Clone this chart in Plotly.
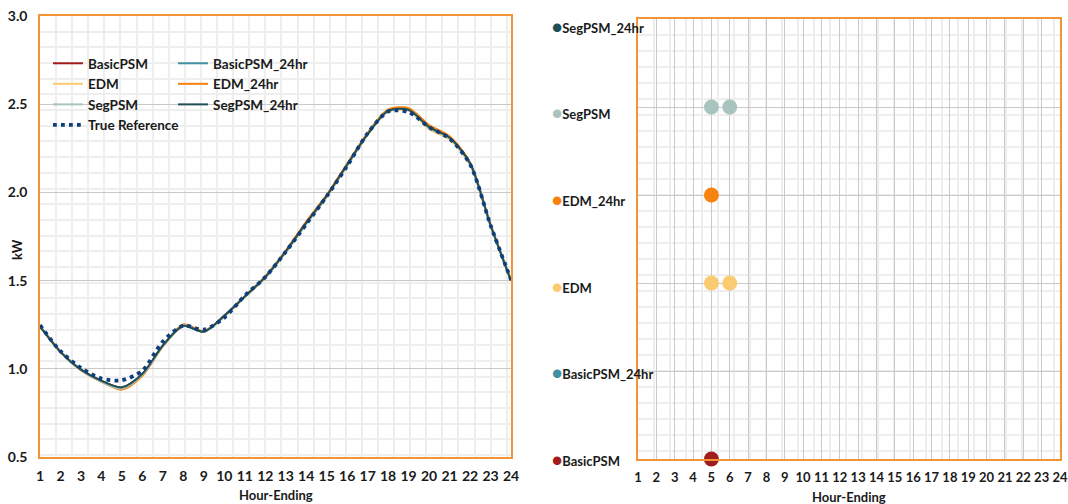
import plotly.graph_objects as go

# ---------------- data ----------------
hours = list(range(1, 25))

basic_psm      = [1.240, 1.095, 0.995, 0.932, 0.893, 0.968, 1.130, 1.243, 1.212, 1.302, 1.408, 1.518,
                  1.663, 1.826, 1.979, 2.156, 2.332, 2.463, 2.470, 2.372, 2.308, 2.163, 1.815, 1.500]
basic_psm_24hr = [1.240, 1.097, 0.996, 0.931, 0.894, 0.970, 1.132, 1.244, 1.210, 1.300, 1.410, 1.520,
                  1.664, 1.828, 1.980, 2.158, 2.331, 2.462, 2.469, 2.371, 2.310, 2.165, 1.815, 1.500]
edm            = [1.238, 1.093, 0.990, 0.925, 0.884, 0.962, 1.126, 1.246, 1.212, 1.296, 1.405, 1.515,
                  1.660, 1.822, 1.975, 2.150, 2.327, 2.458, 2.462, 2.358, 2.298, 2.158, 1.812, 1.500]
edm_24hr       = [1.240, 1.098, 0.993, 0.928, 0.882, 0.960, 1.128, 1.252, 1.214, 1.298, 1.412, 1.524,
                  1.670, 1.835, 1.986, 2.163, 2.338, 2.470, 2.478, 2.382, 2.318, 2.170, 1.818, 1.502]
seg_psm        = [1.240, 1.094, 0.992, 0.926, 0.888, 0.966, 1.128, 1.246, 1.210, 1.298, 1.407, 1.516,
                  1.660, 1.822, 1.976, 2.152, 2.328, 2.460, 2.466, 2.366, 2.305, 2.162, 1.814, 1.500]
seg_psm_24hr   = [1.240, 1.096, 0.995, 0.932, 0.895, 0.972, 1.132, 1.244, 1.210, 1.300, 1.410, 1.520,
                  1.665, 1.827, 1.980, 2.157, 2.330, 2.462, 2.468, 2.370, 2.310, 2.165, 1.815, 1.500]
true_reference = [1.248, 1.100, 1.005, 0.945, 0.935, 0.990, 1.155, 1.245, 1.222, 1.290, 1.415, 1.520,
                  1.663, 1.820, 1.978, 2.150, 2.335, 2.458, 2.455, 2.370, 2.305, 2.160, 1.815, 1.505]

series_names = ["BasicPSM", "BasicPSM_24hr", "EDM", "EDM_24hr", "SegPSM", "SegPSM_24hr"]
series_values = [basic_psm, basic_psm_24hr, edm, edm_24hr, seg_psm, seg_psm_24hr]
series_colors = ["#a11d1d", "#3f90a2", "#fbcb72", "#f7820f", "#a9c4bc", "#1f4e55"]

# hours flagged per method (right panel), categories bottom -> top
flag_hours = {
    "BasicPSM": [5],
    "BasicPSM_24hr": [],
    "EDM": [5, 6],
    "EDM_24hr": [5],
    "SegPSM": [5, 6],
    "SegPSM_24hr": [],
}

y_ticks = [0.5, 1.0, 1.5, 2.0, 2.5, 3.0]

# ---------------- figure ----------------
FONT = "Lato"
W, H = 1068, 504
ML, MR, MT, MB = 40, 8, 16, 45
PW, PH = W - ML - MR, H - MT - MB
BOTTOM = H - MB              # pixel y of plot-area bottom


def px_x(p):
    return (p - ML) / PW


def px_y(p):
    return (BOTTOM - p) / PH


fig = go.Figure()

for name, vals, col in zip(series_names, series_values, series_colors):
    fig.add_trace(go.Scatter(
        x=hours, y=vals, name=name, mode="lines",
        line=dict(color=col, width=2, shape="spline", smoothing=0.8),
        xaxis="x", yaxis="y",
        legend="legend2" if name.endswith("_24hr") else "legend",
    ))

fig.add_trace(go.Scatter(
    x=hours, y=true_reference, name="True Reference", mode="lines",
    line=dict(color="#0f3f7a", width=3.8, dash="3.8px,4.2px", shape="spline", smoothing=0.8),
    xaxis="x", yaxis="y", legend="legend",
))

# right panel markers
for i, (name, col) in enumerate(zip(series_names, series_colors)):
    hrs = flag_hours[name]
    fig.add_trace(go.Scatter(
        x=hrs, y=[i] * len(hrs), mode="markers", showlegend=False,
        marker=dict(color=col, size=15), cliponaxis=False,
        xaxis="x2", yaxis="y2",
    ))

tickfont = dict(family=FONT, size=14, color="#1a1a1a", weight="bold")
tickfont2 = dict(family=FONT, size=13, color="#1a1a1a", weight="bold")
border = "#f39436"
light = "#eeeeee"
mid = "#c9c9c9"

common = dict(zeroline=False, showline=True, linecolor=border, linewidth=1.5, mirror=True,
              ticks="", automargin=False, ticklabeloverflow="allow")

fig.update_layout(
    width=W, height=H,
    margin=dict(l=ML, r=MR, t=MT, b=MB, autoexpand=False),
    paper_bgcolor="white", plot_bgcolor="white",
    font=dict(family=FONT, color="#1a1a1a"),
    xaxis=dict(
        domain=[0, px_x(511)], range=[1, 24], tickmode="array", tickvals=hours,
        showgrid=False, tickfont=tickfont, ticklabelstandoff=5, tickangle=0,
        minor=dict(dtick=0.786, tick0=1, showgrid=True, gridcolor=light, gridwidth=2),
        **common,
    ),
    yaxis=dict(
        domain=[px_y(457), 1], range=[0.5, 3.0], tickvals=y_ticks, tickformat=".1f",
        showgrid=True, gridcolor=mid, gridwidth=1.2,
        tickfont=tickfont, ticklabelstandoff=8,
        minor=dict(dtick=0.0889, tick0=3.0, showgrid=True, gridcolor=light, gridwidth=2),
        **common,
    ),
    xaxis2=dict(
        domain=[px_x(638), 1], range=[1, 24], tickmode="array", tickvals=hours,
        showgrid=True, gridcolor=mid, gridwidth=1,
        tickfont=tickfont2, ticklabelstandoff=6, anchor="y2", tickangle=0,
        minor=dict(dtick=0.872, tick0=1, showgrid=True, gridcolor=light, gridwidth=2),
        **common,
    ),
    yaxis2=dict(
        domain=[0, px_y(19)], range=[0, 5], tickvals=list(range(6)),
        showticklabels=False, showgrid=True, gridcolor=mid, gridwidth=1, anchor="x2",
        minor=dict(dtick=0.182, tick0=5, showgrid=True, gridcolor=light, gridwidth=2),
        **common,
    ),
    legend=dict(
        x=px_x(48), y=px_y(48), xanchor="left", yanchor="top",
        bgcolor="rgba(0,0,0,0)", itemwidth=30, tracegroupgap=0,
        font=dict(family=FONT, size=13.5, color="#1a1a1a", weight="bold"),
    ),
    legend2=dict(
        x=px_x(173), y=px_y(48), xanchor="left", yanchor="top",
        bgcolor="rgba(0,0,0,0)", itemwidth=30, tracegroupgap=0,
        font=dict(family=FONT, size=13.5, color="#1a1a1a", weight="bold"),
    ),
)

ann_font = dict(family=FONT, size=13, color="#1a1a1a", weight="bold")
fig.add_annotation(text="kW", textangle=-90, x=px_x(17), y=px_y(250), xref="paper", yref="paper",
                   xanchor="center", yanchor="middle", showarrow=False, font=ann_font)
fig.add_annotation(text="Hour-Ending", x=px_x(275.5), y=px_y(495), xref="paper", yref="paper",
                   xanchor="center", yanchor="middle", showarrow=False, font=ann_font)
fig.add_annotation(text="Hour-Ending", x=px_x(849), y=px_y(497), xref="paper", yref="paper",
                   xanchor="center", yanchor="middle", showarrow=False, font=ann_font)

# category labels of the right panel (legend-like, left aligned)
for i, (name, col) in enumerate(zip(series_names, series_colors)):
    ypix = 459 - i * 86.5
    fig.add_annotation(
        text=f"<span style='color:{col};font-size:17px'>●</span>{name}",
        x=px_x(550), y=px_y(ypix), xref="paper", yref="paper",
        xanchor="left", yanchor="middle",
        showarrow=False, font=ann_font,
    )

fig.write_html(
    "out.html",
    config={"displayModeBar": False},
    post_script="document.body.style.margin='0';document.body.style.overflow='hidden';",
)
